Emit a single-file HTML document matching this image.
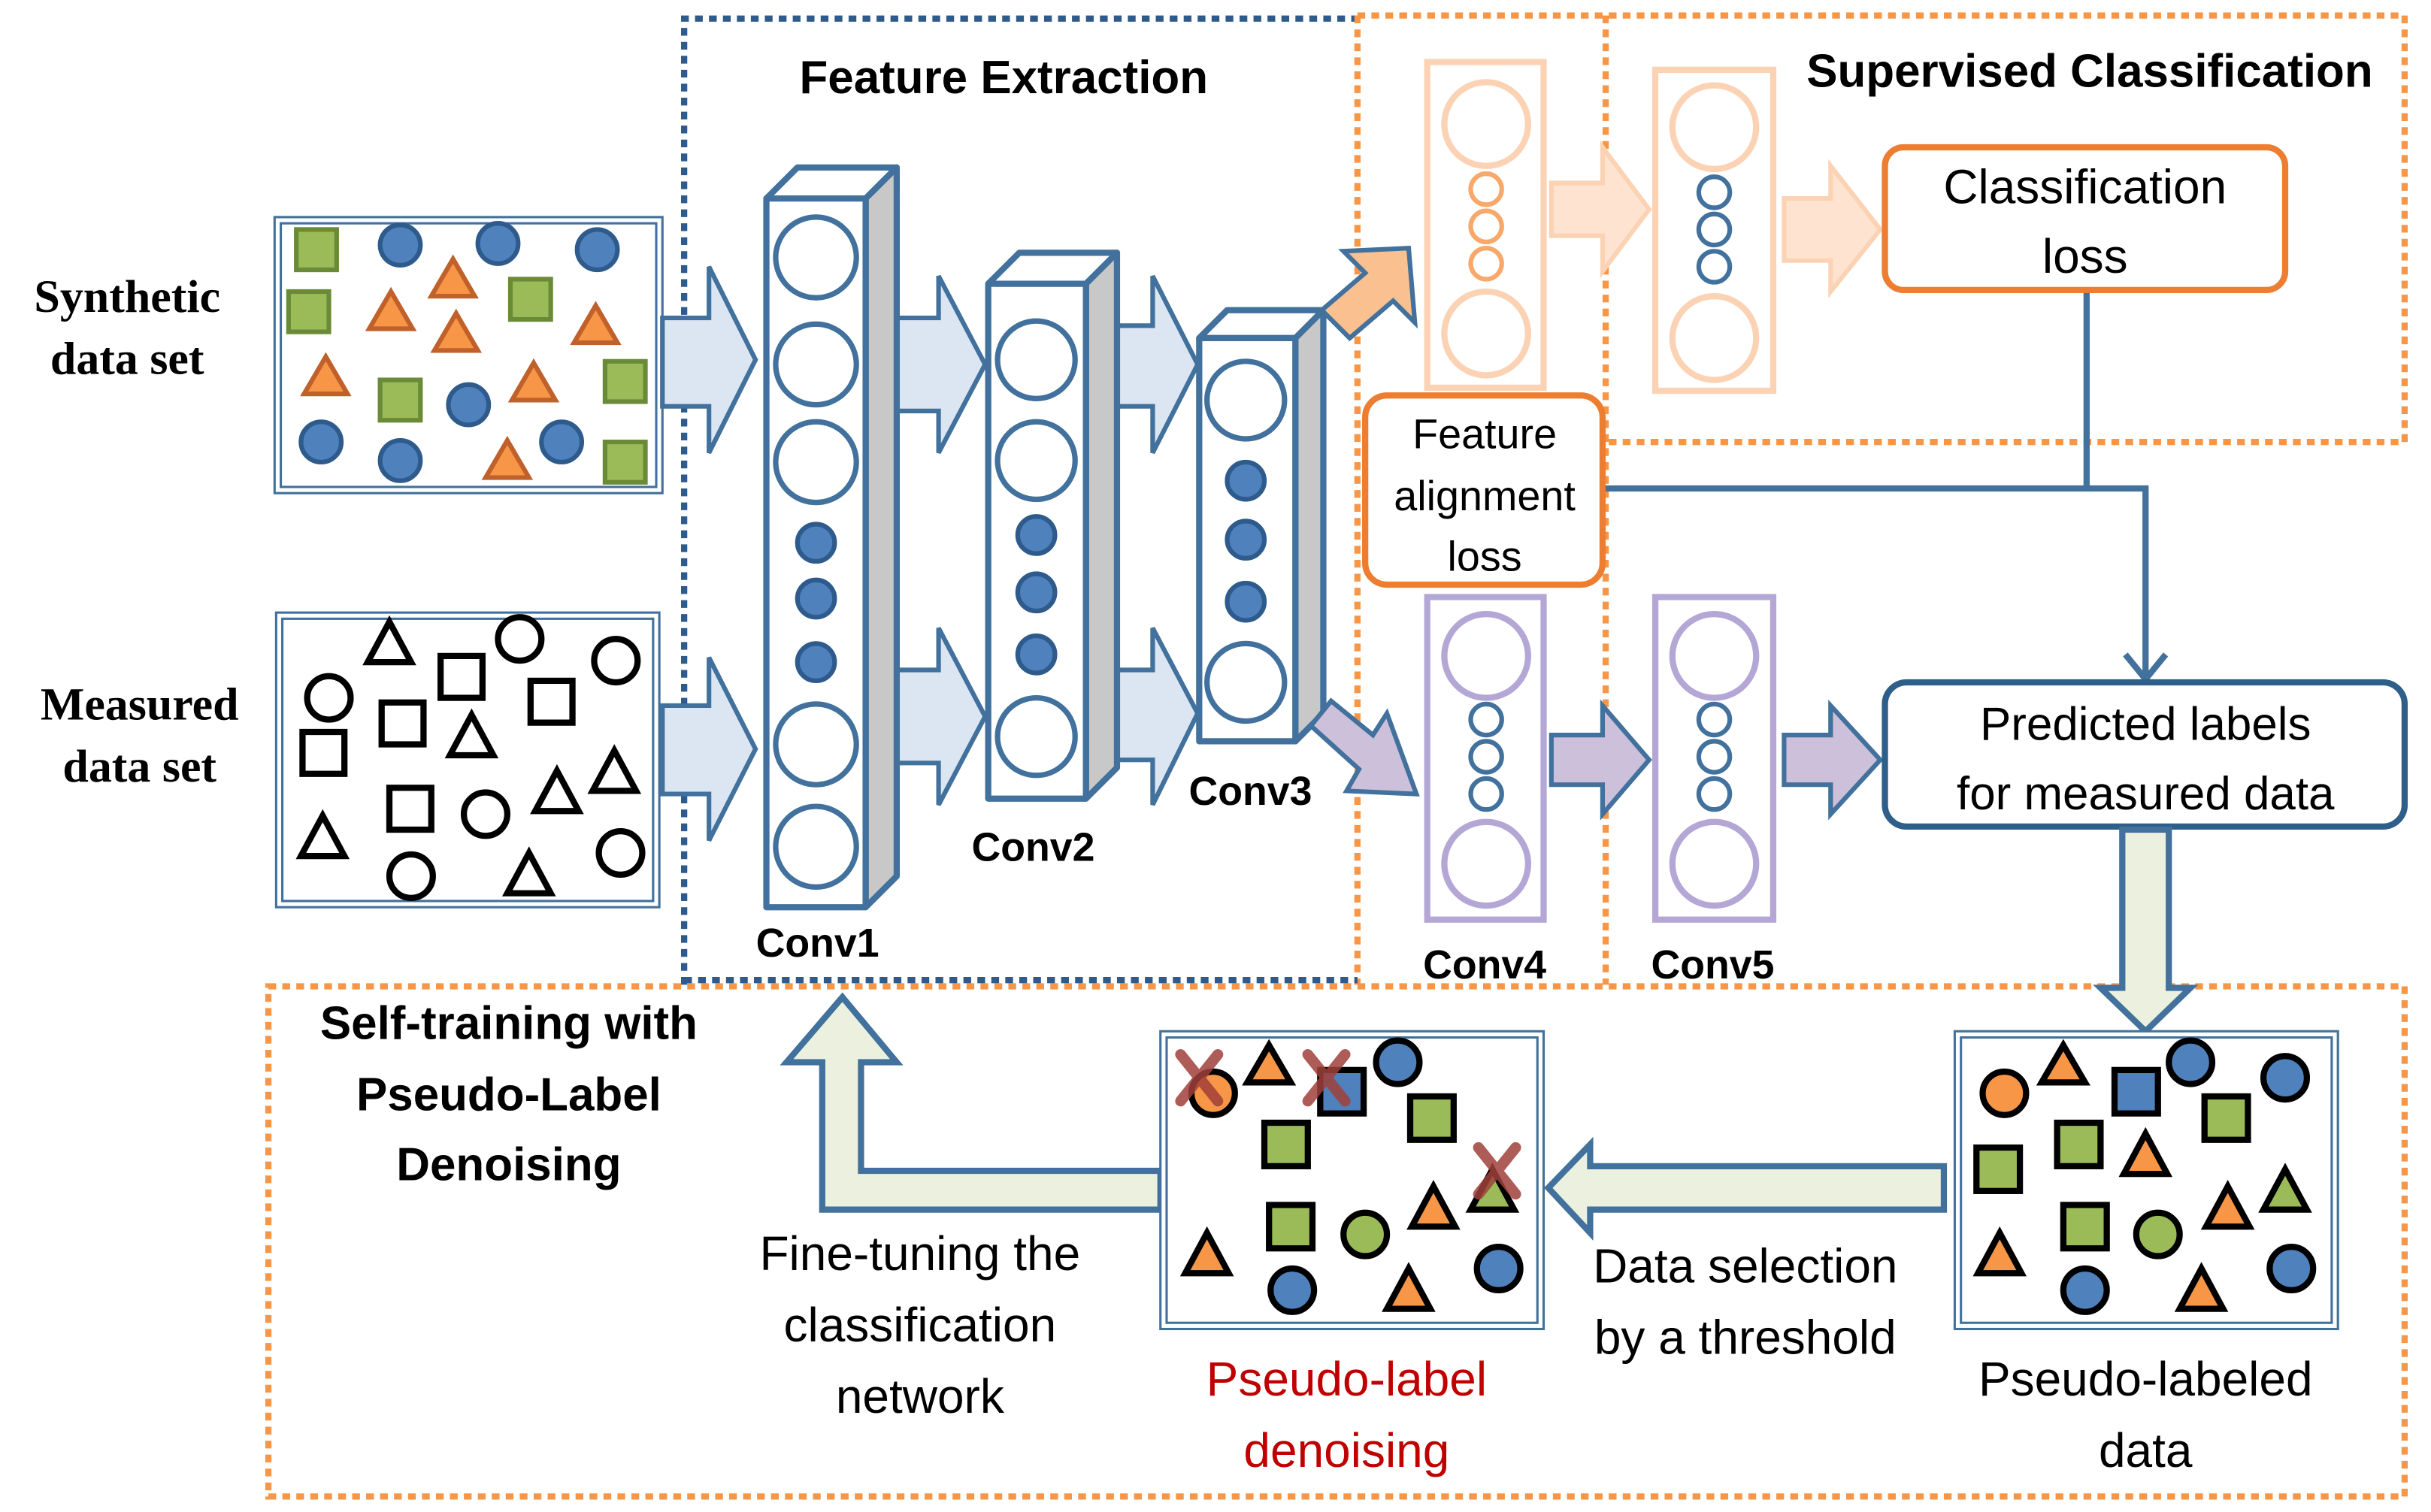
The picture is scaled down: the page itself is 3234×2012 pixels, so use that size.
<!DOCTYPE html>
<html><head><meta charset="utf-8"><style>
html,body{margin:0;padding:0;background:#fff}
svg{display:block}
text{font-family:"Liberation Sans",sans-serif}
.ser{font-family:"Liberation Serif",serif;font-weight:bold}
</style></head><body>
<svg width="3234" height="2012" viewBox="0 0 1567 975" preserveAspectRatio="none" xmlns="http://www.w3.org/2000/svg">
<!-- dashed frames -->
<g fill="none" stroke-width="4">
<path d="M441,635 L441,12 L875,12" stroke="#2e5a8c" stroke-dasharray="5,4"/>
<path d="M875,10 L1550,10 L1550,285 L1035,285 M1035,10 L1035,635 M875,10 L875,635" stroke="#f79646" stroke-dasharray="5,4"/>
<path d="M441,632 L875,632" stroke="#2e5a8c" stroke-dasharray="5,4"/>
<rect x="173" y="636" width="1377" height="329" stroke="#f79646" stroke-dasharray="5,4"/>
</g>
<!-- titles -->
<text x="647" y="60" font-size="30" font-weight="bold" text-anchor="middle">Feature Extraction</text>
<text x="1347" y="56" font-size="30" font-weight="bold" text-anchor="middle">Supervised Classification</text>
<text class="ser" x="82" y="201" font-size="30" text-anchor="middle">Synthetic</text>
<text class="ser" x="82" y="241" font-size="30" text-anchor="middle">data set</text>
<text class="ser" x="90" y="464" font-size="30" text-anchor="middle">Measured</text>
<text class="ser" x="90" y="504" font-size="30" text-anchor="middle">data set</text>

<!-- data boxes -->
<g fill="#fff" stroke="#41719c" stroke-width="1.5">
<rect x="177" y="140" width="250" height="178"/><rect x="181" y="144" width="242" height="170"/>
<rect x="178" y="395" width="247" height="190"/><rect x="182" y="399" width="239" height="182"/>
</g>
<!-- synthetic shapes -->
<g stroke-width="3">
<g fill="#9bbb59" stroke="#6a8a38">
<rect x="191" y="148" width="26" height="26"/><rect x="186" y="188" width="26" height="26"/><rect x="329" y="180" width="26" height="26"/><rect x="245" y="245" width="26" height="26"/><rect x="390" y="233" width="26" height="26"/><rect x="390" y="285" width="26" height="26"/>
</g>
<g fill="#4f81bd" stroke="#2e5a8c">
<circle cx="258" cy="158" r="13"/><circle cx="321" cy="157" r="13"/><circle cx="385" cy="161" r="13"/><circle cx="302" cy="261" r="13"/><circle cx="207" cy="285" r="13"/><circle cx="258" cy="297" r="13"/><circle cx="362" cy="285" r="13"/>
</g>
<g fill="#f79646" stroke="#c0602a">
<path d="M292,167 L306,191 L278,191Z"/><path d="M252,188 L266,212 L238,212Z"/><path d="M294,202 L308,226 L280,226Z"/><path d="M384,197 L398,221 L370,221Z"/><path d="M210,230 L224,254 L196,254Z"/><path d="M344,234 L358,258 L330,258Z"/><path d="M327,284 L341,308 L313,308Z"/>
</g>
</g>
<!-- measured shapes -->
<g fill="none" stroke="#000" stroke-width="4">
<path d="M251,401 L265,427 L237,427Z"/><circle cx="335" cy="412" r="14"/><circle cx="397" cy="426" r="14"/><rect x="284" y="423" width="27" height="27"/><circle cx="212" cy="450" r="14"/><rect x="246" y="453" width="27" height="27"/><rect x="342" y="439" width="27" height="27"/><path d="M304,461 L318,487 L290,487Z"/><rect x="195" y="472" width="27" height="27"/><path d="M396,484 L410,510 L382,510Z"/><path d="M359,497 L373,523 L345,523Z"/><rect x="251" y="508" width="27" height="27"/><circle cx="313" cy="525" r="14"/><path d="M208,526 L222,552 L194,552Z"/><circle cx="265" cy="565" r="14"/><path d="M341,550 L355,576 L327,576Z"/><circle cx="400" cy="550" r="14"/>
</g>

<!-- block arrows (blue) -->
<g fill="#dce6f2" stroke="#41719c" stroke-width="3">
<path d="M427,205 L457,205 L457,172 L487,232 L457,292 L457,262 L427,262Z"/>
<path d="M427,455 L457,455 L457,424 L487,483 L457,542 L457,512 L427,512Z"/>
<path d="M578,205 L605,205 L605,178 L635,235 L605,292 L605,265 L578,265Z"/>
<path d="M578,432 L605,432 L605,405 L635,462 L605,519 L605,492 L578,492Z"/>
<path d="M720,210 L743,210 L743,178 L772,235 L743,292 L743,262 L720,262Z"/>
<path d="M720,432 L743,432 L743,405 L772,460 L743,519 L743,490 L720,490Z"/>
</g>

<!-- conv blocks -->
<g stroke="#41719c" stroke-width="4" stroke-linejoin="round">
<path d="M494,128 L514,108 L578,108 L558,128Z" fill="#fff"/>
<path d="M558,128 L578,108 L578,565 L558,585Z" fill="#c8c8c8"/>
<rect x="494" y="128" width="64" height="457" fill="#fff"/>
<path d="M637,183 L657,163 L720,163 L700,183Z" fill="#fff"/>
<path d="M700,183 L720,163 L720,495 L700,515Z" fill="#c8c8c8"/>
<rect x="637" y="183" width="63" height="332" fill="#fff"/>
<path d="M773,218 L791,200 L853,200 L835,218Z" fill="#fff"/>
<path d="M835,218 L853,200 L853,460 L835,478Z" fill="#c8c8c8"/>
<rect x="773" y="218" width="62" height="260" fill="#fff"/>
</g>
<g fill="#fff" stroke="#41719c" stroke-width="3.5">
<circle cx="526" cy="166" r="26"/><circle cx="526" cy="235" r="26"/><circle cx="526" cy="298" r="26"/><circle cx="526" cy="480" r="26"/><circle cx="526" cy="546" r="26"/>
<circle cx="668" cy="232" r="25"/><circle cx="668" cy="297" r="25"/><circle cx="668" cy="475" r="25"/>
<circle cx="803" cy="258" r="25"/><circle cx="803" cy="440" r="25"/>
</g>
<g fill="#4f81bd" stroke="#2e5a8c" stroke-width="3">
<circle cx="526" cy="350" r="12"/><circle cx="526" cy="386" r="12"/><circle cx="526" cy="427" r="12"/>
<circle cx="668" cy="345" r="12"/><circle cx="668" cy="382" r="12"/><circle cx="668" cy="422" r="12"/>
<circle cx="803" cy="310" r="12"/><circle cx="803" cy="348" r="12"/><circle cx="803" cy="388" r="12"/>
</g>
<g font-size="26" font-weight="bold" text-anchor="middle">
<text x="527" y="617">Conv1</text><text x="666" y="555">Conv2</text><text x="806" y="519">Conv3</text>
<text x="957" y="631">Conv4</text><text x="1104" y="631">Conv5</text>
</g>

<!-- diagonal arrows -->
<path d="M852,200 L880,176 L866,162 L908,160 L912,208 L898,194 L870,218Z" fill="#fac090" stroke="#41719c" stroke-width="3"/>
<path d="M845,468 L858,452 L885,474 L894,460 L913,512 L868,510 L876,496Z" fill="#ccc0da" stroke="#41719c" stroke-width="3"/>

<!-- upper orange columns -->
<g fill="#fff" stroke="#fbd3b4" stroke-width="4">
<rect x="920" y="40" width="75" height="210"/><rect x="1067" y="45" width="76" height="207"/>
<circle cx="958" cy="80" r="27"/><circle cx="958" cy="215" r="27"/>
<circle cx="1105" cy="82" r="27"/><circle cx="1105" cy="218" r="27"/>
</g>
<g fill="#fff" stroke="#f7a86a" stroke-width="3">
<circle cx="958" cy="122" r="10"/><circle cx="958" cy="146" r="10"/><circle cx="958" cy="170" r="10"/>
</g>
<g fill="#fff" stroke="#41719c" stroke-width="3">
<circle cx="1105" cy="124" r="10"/><circle cx="1105" cy="148" r="10"/><circle cx="1105" cy="172" r="10"/>
</g>
<g fill="#fde3d0" stroke="#fbd3b4" stroke-width="3">
<path d="M1000,118 L1033,118 L1033,95 L1063,135 L1033,175 L1033,152 L1000,152Z"/>
<path d="M1150,128 L1180,128 L1180,107 L1212,148 L1180,188 L1180,168 L1150,168Z"/>
</g>
<!-- lower purple columns -->
<g fill="#fff" stroke="#b4a7d6" stroke-width="4">
<rect x="920" y="385" width="75" height="208"/><rect x="1067" y="385" width="76" height="208"/>
<circle cx="958" cy="423" r="27"/><circle cx="958" cy="557" r="27"/>
<circle cx="1105" cy="423" r="27"/><circle cx="1105" cy="557" r="27"/>
</g>
<g fill="#fff" stroke="#41719c" stroke-width="3">
<circle cx="958" cy="464" r="10"/><circle cx="958" cy="488" r="10"/><circle cx="958" cy="512" r="10"/>
<circle cx="1105" cy="464" r="10"/><circle cx="1105" cy="488" r="10"/><circle cx="1105" cy="512" r="10"/>
</g>
<g fill="#ccc0da" stroke="#41719c" stroke-width="3">
<path d="M1000,474 L1033,474 L1033,455 L1063,490 L1033,525 L1033,506 L1000,506Z"/>
<path d="M1150,474 L1180,474 L1180,455 L1212,490 L1180,525 L1180,506 L1150,506Z"/>
</g>

<!-- connector lines -->
<g fill="none" stroke="#41719c" stroke-width="4">
<path d="M1345,187 L1345,315"/>
<path d="M1033,315 L1383,315 L1383,436"/>
<path d="M1370,422 L1383,438 L1396,422"/>
</g>
<!-- loss boxes -->
<rect x="1215" y="95" width="258" height="92" rx="12" fill="#fff" stroke="#ed7d31" stroke-width="4"/>
<text x="1344" y="131" font-size="31" text-anchor="middle">Classification</text>
<text x="1344" y="176" font-size="31" text-anchor="middle">loss</text>
<rect x="880" y="255" width="153" height="122" rx="14" fill="#fff" stroke="#ed7d31" stroke-width="4"/>
<text x="957" y="289" font-size="27" text-anchor="middle">Feature</text>
<text x="957" y="329" font-size="27" text-anchor="middle">alignment</text>
<text x="957" y="368" font-size="27" text-anchor="middle">loss</text>
<rect x="1215" y="440" width="335" height="93" rx="14" fill="#fff" stroke="#2e5f8a" stroke-width="4"/>
<text x="1383" y="477" font-size="30" text-anchor="middle">Predicted labels</text>
<text x="1383" y="522" font-size="30" text-anchor="middle">for measured data</text>

<!-- green arrows -->
<g fill="#ebf1de" stroke="#41719c" stroke-width="4">
<path d="M1368,535 L1398,535 L1398,637 L1412,637 L1383,665 L1354,637 L1368,637Z"/>
<path d="M1253,752 L1025,752 L1025,738 L998,766 L1025,795 L1025,780 L1253,780Z"/>
<path d="M748,755 L555,755 L555,685 L578,685 L543,643 L507,685 L530,685 L530,780 L748,780Z"/>
</g>

<!-- bottom boxes -->
<g fill="#fff" stroke="#41719c" stroke-width="1.5">
<rect x="748" y="665" width="247" height="192"/><rect x="752" y="669" width="239" height="184"/>
<rect x="1260" y="665" width="247" height="192"/><rect x="1264" y="669" width="239" height="184"/>
</g>
<!-- denoising shapes -->
<g stroke="#000" stroke-width="4">
<circle cx="782" cy="705" r="14" fill="#f79646"/>
<path d="M818,674 L832,698 L804,698Z" fill="#f79646"/>
<rect x="851" y="690" width="28" height="28" fill="#4f81bd"/>
<circle cx="901" cy="685" r="14" fill="#4f81bd"/>
<rect x="909" y="707" width="28" height="28" fill="#9bbb59"/>
<rect x="815" y="724" width="28" height="28" fill="#9bbb59"/>
<path d="M962,754 L976,780 L948,780Z" fill="#9bbb59"/>
<rect x="818" y="777" width="28" height="28" fill="#9bbb59"/>
<circle cx="880" cy="796" r="14" fill="#9bbb59"/>
<path d="M924,765 L938,791 L910,791Z" fill="#f79646"/>
<path d="M778,795 L792,821 L764,821Z" fill="#f79646"/>
<circle cx="833" cy="832" r="14" fill="#4f81bd"/>
<path d="M908,818 L922,844 L894,844Z" fill="#f79646"/>
<circle cx="966" cy="818" r="14" fill="#4f81bd"/>
</g>
<g fill="none" stroke="#a0403a" stroke-width="7" stroke-linecap="round" opacity="0.85">
<path d="M761,680 L785,710 M785,680 L761,710"/>
<path d="M843,680 L867,710 M867,680 L843,710"/>
<path d="M953,740 L977,770 M977,740 L953,770"/>
</g>
<!-- pseudo-labeled shapes -->
<g stroke="#000" stroke-width="4">
<circle cx="1292" cy="705" r="14" fill="#f79646"/>
<path d="M1330,674 L1344,698 L1316,698Z" fill="#f79646"/>
<circle cx="1412" cy="685" r="14" fill="#4f81bd"/>
<circle cx="1473" cy="695" r="14" fill="#4f81bd"/>
<rect x="1363" y="690" width="28" height="28" fill="#4f81bd"/>
<rect x="1421" y="707" width="28" height="28" fill="#9bbb59"/>
<rect x="1326" y="724" width="28" height="28" fill="#9bbb59"/>
<rect x="1274" y="740" width="28" height="28" fill="#9bbb59"/>
<path d="M1383,731 L1397,757 L1369,757Z" fill="#f79646"/>
<path d="M1473,754 L1487,780 L1459,780Z" fill="#9bbb59"/>
<rect x="1330" y="777" width="28" height="28" fill="#9bbb59"/>
<circle cx="1391" cy="796" r="14" fill="#9bbb59"/>
<path d="M1436,765 L1450,791 L1422,791Z" fill="#f79646"/>
<path d="M1289,795 L1303,821 L1275,821Z" fill="#f79646"/>
<circle cx="1344" cy="832" r="14" fill="#4f81bd"/>
<path d="M1419,818 L1433,844 L1405,844Z" fill="#f79646"/>
<circle cx="1477" cy="818" r="14" fill="#4f81bd"/>
</g>

<!-- bottom texts -->
<g font-size="31" text-anchor="middle">
<text x="1125" y="827">Data selection</text>
<text x="1125" y="873">by a threshold</text>
<text x="593" y="819">Fine-tuning the</text>
<text x="593" y="865">classification</text>
<text x="593" y="911">network</text>
<text x="868" y="900" fill="#c00000">Pseudo-label</text>
<text x="868" y="946" fill="#c00000">denoising</text>
<text x="1383" y="900">Pseudo-labeled</text>
<text x="1383" y="946">data</text>
</g>
<g font-size="30" font-weight="bold" text-anchor="middle">
<text x="328" y="670">Self-training with</text>
<text x="328" y="716">Pseudo-Label</text>
<text x="328" y="761">Denoising</text>
</g>
</svg>
</body></html>
